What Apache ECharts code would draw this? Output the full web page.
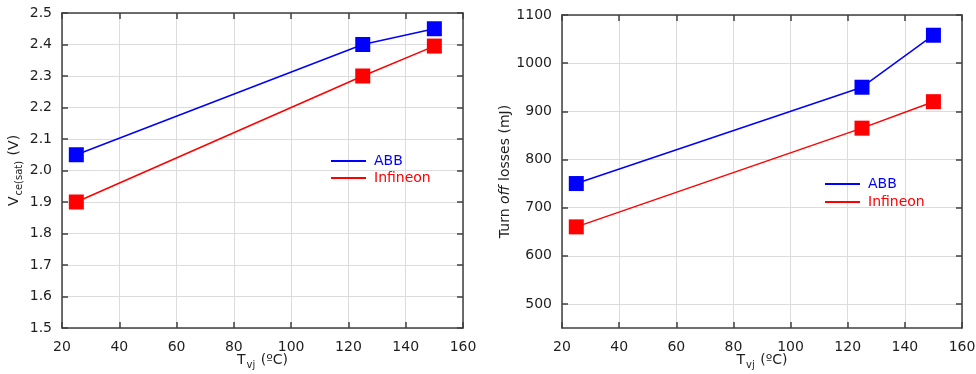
<!DOCTYPE html>
<html>
<head>
<meta charset="utf-8">
<script src="https://cdn.jsdelivr.net/npm/echarts@6/dist/echarts.min.js"></script>
<style>
  html, body { margin: 0; padding: 0; background: #fff; }
  #main { width: 976px; height: 374px; }
</style>
</head>
<body>
<div id="main"></div>
<script>
// data
const tempVj = [25, 125, 150];
const vceAbb = [2.05, 2.4, 2.45];
const vceInfineon = [1.9, 2.3, 2.395];
const offAbb = [750, 950, 1058];
const offInfineon = [660, 865, 920];
const offTicks = [500, 600, 700, 800, 900, 1000, 1100];

const FONT = "DejaVu Sans";
const TXT = "#1e1e1e";
const BLUE = "#0000ff";
const RED = "#ff0000";

const pairs = (xs, ys) => xs.map((x, i) => [x, ys[i]]);

let chart = echarts.init(document.getElementById("main"), null, { renderer: "canvas" });

const frameLine = { show: true, onZero: false, lineStyle: { color: "#404040", width: 1.5 } };
const innerTick = { show: true, inside: true, length: 6, lineStyle: { color: "#404040", width: 1.5 } };
const grid = { show: true, lineStyle: { color: "#dcdcdc", width: 1 } };
const tickLabel = { color: TXT, fontFamily: FONT, fontSize: 14, margin: 10 };
const nameRich = {
  n: { fontFamily: FONT, fontSize: 14, color: TXT },
  i: { fontFamily: FONT, fontSize: 14, color: TXT, fontStyle: "italic" },
  s: { fontFamily: FONT, fontSize: 10, color: TXT, padding: [9, 1, 0, 1] },
};

function xAxes(gridIndex) {
  return [
    {
      type: "value", gridIndex, min: 20, max: 160, interval: 20,
      axisLine: frameLine, axisTick: innerTick, splitLine: grid,
      axisLabel: { ...tickLabel, margin: 12 },
      name: "{n|T}{s|vj}{n| (ºC)}", nameLocation: "middle", nameGap: 23,
      nameMoveOverlap: false,
      nameTextStyle: { rich: nameRich },
    },
    {
      type: "value", gridIndex, position: "top", min: 20, max: 160, interval: 20,
      axisLine: frameLine, axisTick: innerTick, splitLine: { show: false }, axisLabel: { show: false },
    },
  ];
}

function legendAt(left, top, gap) {
  return {
    left, top, padding: 0, orient: "vertical", icon: "rect", itemWidth: 35, itemHeight: 2,
    itemGap: gap, textStyle: { fontFamily: FONT, fontSize: 14, padding: [0, 0, 0, 3] },
    data: [
      { name: "ABB", textStyle: { color: BLUE } },
      { name: "Infineon", textStyle: { color: RED } },
    ],
  };
}

chart.setOption({
  animation: false,
  backgroundColor: "#fff",
  grid: [
    { left: 62, right: 513, top: 13, bottom: 46, outerBoundsMode: "none" },
    { left: 562, right: 14, top: 15, bottom: 46, outerBoundsMode: "none" },
  ],
  xAxis: [...xAxes(0), ...xAxes(1)],
  yAxis: [
    {
      type: "value", gridIndex: 0, min: 1.5, max: 2.5, interval: 0.1,
      axisLine: frameLine, axisTick: innerTick, splitLine: grid,
      axisLabel: { ...tickLabel, formatter: (v) => v.toFixed(1) },
      name: "{n|V}{s|ce(sat)}{n| (V)}", nameLocation: "middle", nameGap: 38,
      nameTextStyle: { rich: nameRich },
    },
    {
      type: "value", gridIndex: 0, position: "right", min: 1.5, max: 2.5, interval: 0.1,
      axisLine: frameLine, axisTick: innerTick, splitLine: { show: false }, axisLabel: { show: false },
    },
    {
      type: "value", gridIndex: 1, min: 450, max: 1100,
      axisLine: frameLine,
      axisTick: { ...innerTick, customValues: offTicks },
      splitLine: grid,
      axisLabel: { ...tickLabel, customValues: offTicks, formatter: (v) => String(v) },
      name: "{n|Turn }{i|off}{n| losses (mJ)}", nameLocation: "middle", nameGap: 50,
      nameTextStyle: { rich: nameRich },
    },
    {
      type: "value", gridIndex: 1, position: "right", min: 450, max: 1100,
      axisLine: frameLine,
      axisTick: { ...innerTick, customValues: offTicks },
      splitLine: { show: false }, axisLabel: { show: false },
    },
  ],
  legend: [legendAt(331, 154, 3), legendAt(825, 177, 4)],
  series: [
    { name: "ABB", data: pairs(tempVj, vceAbb), xAxisIndex: 0, yAxisIndex: 0, color: BLUE },
    { name: "Infineon", data: pairs(tempVj, vceInfineon), xAxisIndex: 0, yAxisIndex: 0, color: RED },
    { name: "ABB", data: pairs(tempVj, offAbb), xAxisIndex: 2, yAxisIndex: 2, color: BLUE },
    { name: "Infineon", data: pairs(tempVj, offInfineon), xAxisIndex: 2, yAxisIndex: 2, color: RED },
  ].map((s) => ({
    ...s,
    type: "line",
    symbol: "rect",
    symbolSize: 15,
    lineStyle: { width: 1.5, color: s.color },
    itemStyle: { color: s.color },
  })),
});
</script>
</body>
</html>
